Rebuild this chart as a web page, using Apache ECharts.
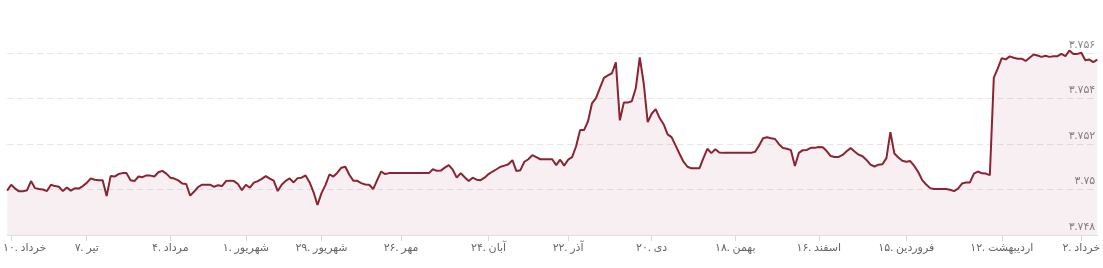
<!DOCTYPE html>
<html>
<head>
<meta charset="utf-8">
<script src="https://cdn.jsdelivr.net/npm/echarts@6/dist/echarts.min.js"></script>
<style>
html,body{margin:0;padding:0;background:#fff;}
#chart{width:1103px;height:268px;}
</style>
</head>
<body>
<div id="chart"></div>
<script>
// Series values (one per trading day)
const values = [
3.74995,3.75021,3.75004,3.74992,3.74992,3.74997,3.75037,3.75006,3.75002,3.75000,
3.74993,3.75021,3.75015,3.75012,3.74993,3.75009,3.74995,3.75005,3.75004,3.75015,
3.75029,3.75049,3.75043,3.75041,3.75041,3.74971,3.75059,3.75057,3.75068,3.75072,
3.75072,3.75041,3.75037,3.75057,3.75054,3.75062,3.75061,3.75057,3.75076,3.75082,
3.75070,3.75052,3.75048,3.75040,3.75026,3.75024,3.74973,3.74991,3.75011,3.75021,
3.75021,3.75021,3.75012,3.75019,3.75015,3.75037,3.75039,3.75037,3.75024,3.74997,
3.75021,3.75008,3.75030,3.75037,3.75047,3.75059,3.75048,3.75039,3.74993,3.75021,
3.75038,3.75049,3.75031,3.75050,3.75052,3.75062,3.75032,3.74989,3.74932,3.74984,
3.75019,3.75066,3.75057,3.75074,3.75096,3.75100,3.75065,3.75039,3.75038,3.75028,
3.75022,3.75021,3.75002,3.75041,3.75079,3.75068,3.75072,3.75072,3.75072,3.75072,
3.75072,3.75072,3.75072,3.75072,3.75072,3.75072,3.75072,3.75089,3.75082,3.75083,
3.75096,3.75107,3.75087,3.75052,3.75072,3.75054,3.75037,3.75052,3.75043,3.75041,
3.75052,3.75068,3.75079,3.75089,3.75100,3.75105,3.75111,3.75129,3.75081,3.75085,
3.75122,3.75133,3.75151,3.75142,3.75133,3.75133,3.75133,3.75133,3.75107,3.75131,
3.75105,3.75131,3.75142,3.75190,3.75261,3.75261,3.75300,3.75379,3.75402,3.75447,
3.75491,3.75502,3.75511,3.75559,3.75304,3.75382,3.75382,3.75388,3.75445,3.75581,
3.75467,3.75296,3.75333,3.75353,3.75314,3.75287,3.75242,3.75230,3.75194,3.75157,
3.75122,3.75100,3.75093,3.75093,3.75093,3.75138,3.75179,3.75160,3.75177,3.75163,
3.75161,3.75161,3.75161,3.75161,3.75161,3.75161,3.75161,3.75161,3.75166,3.75193,
3.75225,3.75230,3.75225,3.75222,3.75199,3.75182,3.75179,3.75173,3.75103,3.75161,
3.75173,3.75174,3.75183,3.75183,3.75187,3.75186,3.75169,3.75147,3.75143,3.75143,
3.75152,3.75168,3.75182,3.75167,3.75153,3.75146,3.75130,3.75109,3.75101,3.75109,
3.75111,3.75138,3.75252,3.75158,3.75141,3.75126,3.75122,3.75125,3.75104,3.75077,
3.75041,3.75022,3.75006,3.75002,3.75002,3.75002,3.75002,3.74999,3.74993,3.75004,
3.75026,3.75031,3.75031,3.75070,3.75079,3.75071,3.75070,3.75063,3.75492,3.75532,
3.75577,3.75572,3.75585,3.75579,3.75575,3.75575,3.75565,3.75579,3.75593,3.75589,
3.75583,3.75588,3.75583,3.75586,3.75586,3.75596,3.75586,3.75611,3.75596,3.75596,
3.75601,3.75568,3.75571,3.75560,3.75571
];

// Categories: trading-day index
const categories = values.map(function (_, i) { return String(i); });

// X tick positions (category index) and their labels
const xTickIndex = [1, 20, 41, 60, 79, 99, 121, 141, 162, 183, 204, 226, 250, 270];
const xTickLabels = ['۱۰. خرداد', '۷. تیر', '۴. مرداد', '۱. شهریور', '۲۹. شهریور', '۲۶. مهر',
  '۲۴. آبان', '۲۲. آذر', '۲۰. دی', '۱۸. بهمن', '۱۶. اسفند', '۱۵. فروردین', '۱۲. اردیبهشت', '۲. خرداد'];

// Y ticks
const yMin = 3.748, yMax = 3.756, yStep = 0.002;
const persianDigits = ['۰','۱','۲','۳','۴','۵','۶','۷','۸','۹'];

function toPersian(s) {
  return String(s).replace(/[0-9]/g, function (d) { return persianDigits[+d]; });
}

const labelMap = {};
xTickIndex.forEach(function (idx, k) { labelMap[idx] = xTickLabels[k]; });
function isTick(index) { return Object.prototype.hasOwnProperty.call(labelMap, index); }

const font = "'Noto Sans', 'DejaVu Sans', sans-serif";
const chart = echarts.init(document.getElementById('chart'), null, {renderer: 'canvas'});
chart.setOption({
  animation: false,
  backgroundColor: '#ffffff',
  grid: {left: 3, right: 2, top: 53, bottom: 33, containLabel: false},
  xAxis: {
    type: 'category',
    data: categories,
    boundaryGap: false,
    axisLine: {show: true, lineStyle: {color: '#e6dfe0', width: 1}},
    axisTick: {show: true, length: 6, interval: function (index) { return isTick(index); },
      lineStyle: {color: '#dcd6d7'}},
    axisLabel: {
      interval: function (index) { return isTick(index); },
      formatter: function (value, index) {
        const lbl = labelMap[index] || '';
        return index === xTickIndex[0] ? '{first|' + lbl + '}' : lbl;
      },
      color: '#666666', fontSize: 11, fontFamily: font, margin: 7,
      rich: {first: {padding: [0, 0, 0, 27], color: '#666666', fontSize: 11, fontFamily: font}}
    },
    splitLine: {show: false}
  },
  yAxis: {
    type: 'value',
    position: 'right',
    min: yMin, max: yMax, interval: yStep,
    axisLine: {show: false},
    axisTick: {show: false},
    axisLabel: {
      inside: true,
      margin: 2,
      verticalAlign: 'bottom',
      padding: [0, 0, 3, 0],
      color: '#888888', fontSize: 11, fontFamily: font,
      formatter: function (v) { return toPersian(parseFloat(v.toFixed(3)).toString()); }
    },
    splitLine: {show: true, lineStyle: {color: '#e6e6e6', type: [6, 4], width: 1}}
  },
  series: [{
    type: 'line',
    data: values,
    showSymbol: false,
    symbol: 'none',
    clip: false,
    lineStyle: {color: '#8a2332', width: 2},
    areaStyle: {color: 'rgba(138,35,50,0.1)'},
    z: 2
  }]
});
</script>
</body>
</html>
